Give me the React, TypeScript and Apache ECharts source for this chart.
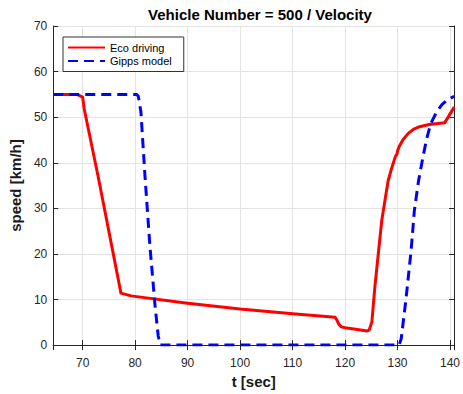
import React, { useEffect, useRef } from "react";
import * as echarts from "echarts";

const ecoT = [64.4, 68.9, 69.3, 70.0, 70.3, 73.0, 77.3, 79.2, 90, 100, 110, 118.1, 118.4, 118.8, 119.3, 120, 122, 124.2, 124.6, 125.1, 125.7, 126.35, 127.0, 127.6, 128.2, 128.8, 129.6, 129.9, 130.0, 130.3, 131.0, 132, 133, 134.2, 136, 139.0, 140.8];
const ecoV = [55, 55, 54.8, 54.4, 51.8, 36.7, 11.4, 10.8, 9.2, 7.9, 6.9, 6.1, 5.6, 4.6, 4.0, 3.8, 3.5, 3.1, 3.3, 5.0, 13, 20.2, 27.4, 31.7, 36, 38.5, 41.4, 41.9, 42.6, 43.5, 45.0, 46.4, 47.3, 47.9, 48.4, 48.8, 52.2];

const gippsT = [64.4, 80.3, 80.6, 81.1, 81.9, 82.8, 83.8, 84.4, 84.8, 130.3, 130.7, 131.6, 132.6, 133.2, 134.0, 134.8, 135.5, 136.3, 137.5, 138.5, 139.5, 140.8];
const gippsV = [55, 55, 54.6, 51.2, 36.7, 22, 8.6, 2, 0, 0, 1.4, 10, 20.9, 29.5, 36, 41, 45, 48.5, 51.3, 52.8, 53.8, 54.6];

const seriesNames = ["Eco driving", "Gipps model"];
const titleText = "Vehicle Number = 500 / Velocity";
const xName = "t [sec]";
const yName = "speed [km/h]";

const FONT = "'Liberation Sans', Arial, Helvetica, sans-serif";
const AX = "#262626";
const GRID = "#e3e3e3";

export default function App() {
  const ref = useRef<HTMLDivElement>(null);
  useEffect(() => {
    if (!ref.current) return;
    const chart = echarts.init(ref.current, undefined, { renderer: "svg" });
    const xMin = 64.4;
    const xMax = 140.8;
    const axisCommon = {
      axisLine: { show: true, lineStyle: { color: AX, width: 1 } },
      axisTick: { show: true, inside: true, length: 5, lineStyle: { color: AX, width: 1 } },
    };
    chart.setOption({
      animation: false,
      backgroundColor: "#ffffff",
      textStyle: { fontFamily: FONT },
      title: {
        text: titleText,
        left: 255,
        top: 2,
        textAlign: "center",
        textStyle: { fontFamily: FONT, fontSize: 15, fontWeight: "bold", color: "#000" },
      },
      legend: {
        data: seriesNames,
        orient: "vertical",
        left: 63,
        top: 37,
        padding: [5, 12, 5, 4],
        itemWidth: 37,
        itemHeight: 12,
        itemGap: 2.5,
        borderColor: "#333",
        borderWidth: 1,
        backgroundColor: "#fff",
        borderRadius: 0,
        itemStyle: { opacity: 0 },
        textStyle: { fontFamily: FONT, fontSize: 11, color: "#000" },
      },
      grid: { left: 50, top: 26, width: 411, height: 324, containLabel: false },
      xAxis: [
        {
          type: "value",
          min: xMin,
          max: xMax,
          splitNumber: 8,
          position: "bottom",
          ...axisCommon,
          axisLabel: { show: true, fontFamily: FONT, fontSize: 12, color: AX, margin: 12, showMinLabel: false, showMaxLabel: false },
          splitLine: { show: true, lineStyle: { color: GRID, width: 1 } },
          name: xName,
          nameLocation: "middle",
          nameGap: 28,
          nameTextStyle: { fontFamily: FONT, fontSize: 15, fontWeight: "bold", color: "#1a1a1a" },
        },
        {
          type: "value",
          min: xMin,
          max: xMax,
          splitNumber: 8,
          position: "top",
          ...axisCommon,
          axisLabel: { show: false },
          splitLine: { show: false },
        },
      ],
      yAxis: [
        {
          type: "value",
          min: 0,
          max: 70,
          interval: 10,
          position: "left",
          ...axisCommon,
          axisLabel: { show: true, fontFamily: FONT, fontSize: 12, color: AX, margin: 6 },
          splitLine: { show: true, lineStyle: { color: GRID, width: 1 } },
          name: yName,
          nameLocation: "middle",
          nameGap: 24,
          nameRotate: 90,
          nameTextStyle: { fontFamily: FONT, fontSize: 15, fontWeight: "bold", color: "#1a1a1a" },
        },
        {
          type: "value",
          min: 0,
          max: 70,
          interval: 10,
          position: "right",
          ...axisCommon,
          axisLabel: { show: false },
          splitLine: { show: false },
        },
      ],
      series: [
        {
          name: seriesNames[0],
          type: "line",
          xAxisIndex: 0,
          yAxisIndex: 0,
          data: ecoT.map((t, i) => [t, ecoV[i]]),
          showSymbol: false,
          symbol: "none",
          lineStyle: { color: "#ff0000", width: 3, join: "round" },
          itemStyle: { color: "#ff0000" },
        },
        {
          name: seriesNames[1],
          type: "line",
          xAxisIndex: 0,
          yAxisIndex: 0,
          data: gippsT.map((t, i) => [t, gippsV[i]]),
          showSymbol: false,
          symbol: "none",
          lineStyle: { color: "#0000ff", width: 3, type: [10, 6], join: "round" },
          itemStyle: { color: "#0000ff" },
        },
      ],
    });
    return () => chart.dispose();
  }, []);
  return (
    <div
      ref={ref}
      style={{ position: "fixed", left: 0, top: 0, width: 463, height: 394, background: "#fff" }}
    />
  );
}
